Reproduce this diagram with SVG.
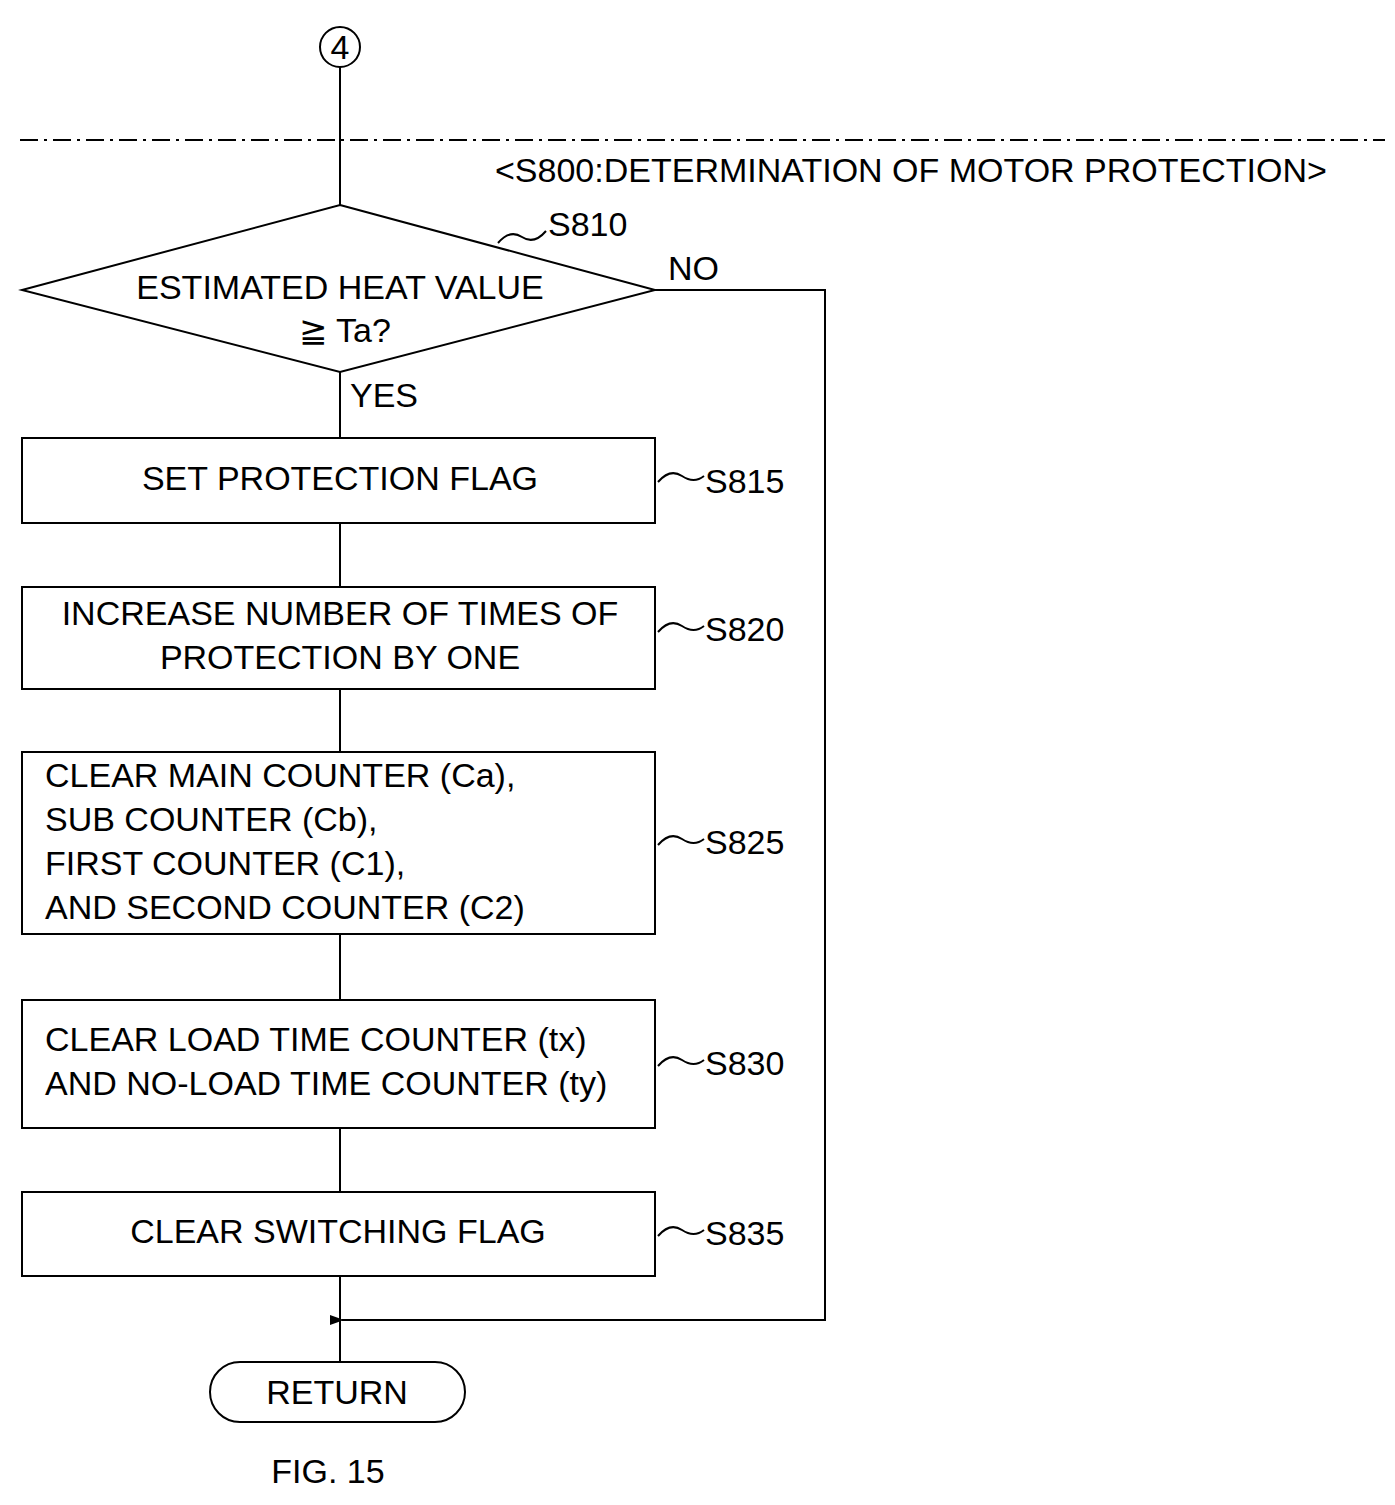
<svg xmlns="http://www.w3.org/2000/svg" width="1395" height="1505" viewBox="0 0 1395 1505">
<style>
.s{fill:none;stroke:#000;stroke-width:2}
.b{fill:#fff;stroke:#000;stroke-width:2}
text{font-family:"Liberation Sans",Arial,sans-serif;font-size:34px;fill:#000}
.c{text-anchor:middle}
</style>
<defs><marker id="a" markerWidth="14" markerHeight="10" refX="2" refY="5" orient="auto" markerUnits="userSpaceOnUse"><path d="M14,0 L0,5 L14,10 Z" fill="#000"/></marker></defs>
<rect width="1395" height="1505" fill="#fff"/>
<line x1="20" y1="140" x2="1385" y2="140" stroke="#000" stroke-width="2" stroke-dasharray="18,6,3,6"/>
<text x="495" y="182">&lt;S800:DETERMINATION OF MOTOR PROTECTION&gt;</text>
<g id="connectors">
<path class="s" d="M340,67 V205 M340,372 V438 M340,523 V587 M340,689 V752 M340,934 V1000 M340,1128 V1192 M340,1276 V1362"/>
<path class="s" d="M655,290 H825 V1320 H342" marker-end="url(#a)"/>
<text x="668" y="280">NO</text>
<text x="350" y="407">YES</text>
</g>
<g id="start"><circle class="b" cx="340" cy="47" r="20"/><text class="c" x="340" y="59">4</text></g>
<g id="S810"><path class="b" d="M340,205 L655,290 L340,372 L22,290 Z"/>
<text class="c" x="340" y="299">ESTIMATED HEAT VALUE</text><text class="c" x="345" y="342">≧ Ta?</text>
<path class="s" d="M498,243 q12,-14 24,-6 t24,-6"/><text x="548" y="236">S810</text></g>
<g id="S815"><rect class="b" x="22" y="438" width="633" height="85"/><text class="c" x="340" y="490">SET PROTECTION FLAG</text>
<path class="s" d="M658,482 q12,-14 24,-6 t22,0"/><text x="705" y="493">S815</text></g>
<g id="S820"><rect class="b" x="22" y="587" width="633" height="102"/><text class="c" x="340" y="625">INCREASE NUMBER OF TIMES OF</text><text class="c" x="340" y="669">PROTECTION BY ONE</text>
<path class="s" d="M658,632 q12,-14 24,-6 t22,0"/><text x="705" y="641">S820</text></g>
<g id="S825"><rect class="b" x="22" y="752" width="633" height="182"/>
<text x="45" y="787">CLEAR MAIN COUNTER (Ca),</text><text x="45" y="831">SUB COUNTER (Cb),</text><text x="45" y="875">FIRST COUNTER (C1),</text><text x="45" y="919">AND SECOND COUNTER (C2)</text>
<path class="s" d="M658,845 q12,-14 24,-6 t22,0"/><text x="705" y="854">S825</text></g>
<g id="S830"><rect class="b" x="22" y="1000" width="633" height="128"/>
<text x="45" y="1051">CLEAR LOAD TIME COUNTER (tx)</text><text x="45" y="1095">AND NO-LOAD TIME COUNTER (ty)</text>
<path class="s" d="M658,1066 q12,-14 24,-6 t22,0"/><text x="705" y="1075">S830</text></g>
<g id="S835"><rect class="b" x="22" y="1192" width="633" height="84"/><text class="c" x="338" y="1243">CLEAR SWITCHING FLAG</text>
<path class="s" d="M658,1236 q12,-14 24,-6 t22,0"/><text x="705" y="1245">S835</text></g>
<g id="return"><rect class="b" x="210" y="1362" width="255" height="60" rx="30"/><text class="c" x="337" y="1404">RETURN</text></g>
<text class="c" x="328" y="1483">FIG. 15</text>
</svg>
